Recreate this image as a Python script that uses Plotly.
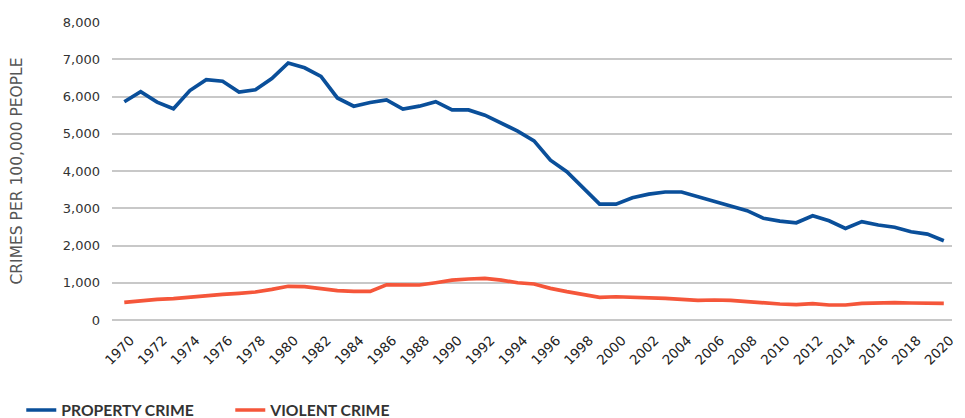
import plotly.graph_objects as go

years = list(range(1970, 2021))

property_crime = [
    5860, 6130, 5850, 5670, 6160, 6450, 6410, 6120, 6180, 6480,
    6900, 6770, 6540, 5960, 5740, 5840, 5910, 5660, 5740, 5860,
    5640, 5640, 5500, 5290, 5070, 4810, 4290, 3980, 3550, 3110,
    3110, 3280, 3380, 3436, 3436, 3310, 3175, 3045, 2935, 2730,
    2655, 2610, 2800, 2665, 2460, 2640, 2550, 2490, 2370, 2305,
    2130,
]

violent_crime = [
    474, 519, 555, 573, 617, 662, 689, 716, 752, 823,
    905, 895, 832, 787, 769, 769, 945, 945, 940, 1000,
    1070, 1100, 1115, 1070, 1000, 966, 850, 761, 689, 608,
    624, 617, 608, 582, 555, 528, 537, 528, 492, 456,
    430, 412, 438, 403, 403, 448, 465, 465, 456, 448,
    448,
]

series_names = ["PROPERTY CRIME", "VIOLENT CRIME"]
y_ticks = [0, 1000, 2000, 3000, 4000, 5000, 6000, 7000, 8000]
x_ticks = list(range(1970, 2021, 2))

BLUE = "#0a4f9a"
ORANGE = "#f5563a"

fig = go.Figure()
fig.add_trace(go.Scatter(x=years, y=property_crime, mode="lines", name=series_names[0],
                         line=dict(color=BLUE, width=3.7)))
fig.add_trace(go.Scatter(x=years, y=violent_crime, mode="lines", name=series_names[1],
                         line=dict(color=ORANGE, width=3.7)))

# page body has an 8px margin, so the figure is 957x410 and offset by 8px
fig.update_layout(
    width=957, height=410,
    margin=dict(l=104, r=13, t=14, b=98, autoexpand=False),
    paper_bgcolor="white", plot_bgcolor="white",
    font=dict(family="DejaVu Sans, sans-serif", color="#333333"),
    showlegend=True,
    legend=dict(orientation="h", x=-0.108, xanchor="left", y=-0.303, yanchor="middle",
                font=dict(family="Lato, sans-serif", size=15.7, color="#333333", weight="bold"),
                entrywidth=164, entrywidthmode="pixels", traceorder="normal"),
    xaxis=dict(range=[1969.25, 2020.5], tickvals=x_ticks, ticktext=[str(v) for v in x_ticks],
               tickangle=-45, tickfont=dict(size=13.5, color="#222222"),
               ticklabelstandoff=9, ticklabelshift=6,
               showgrid=False, zeroline=False, showline=False, ticks="", automargin=False),
    yaxis=dict(range=[0, 8000], tickvals=y_ticks, tickformat=",d",
               tickfont=dict(size=13, color="#333333"),
               showgrid=True, gridcolor="#c8c8c8", gridwidth=1.5,
               zeroline=True, zerolinecolor="#c8c8c8", zerolinewidth=1.5,
               showline=False, ticks="", ticklabelstandoff=11, automargin=False,
               title=dict(text="CRIMES PER 100,000 PEOPLE",
                          font=dict(size=15.5, color="#555555"),
                          standoff=38)),
)

fig.write_html("out.html")
